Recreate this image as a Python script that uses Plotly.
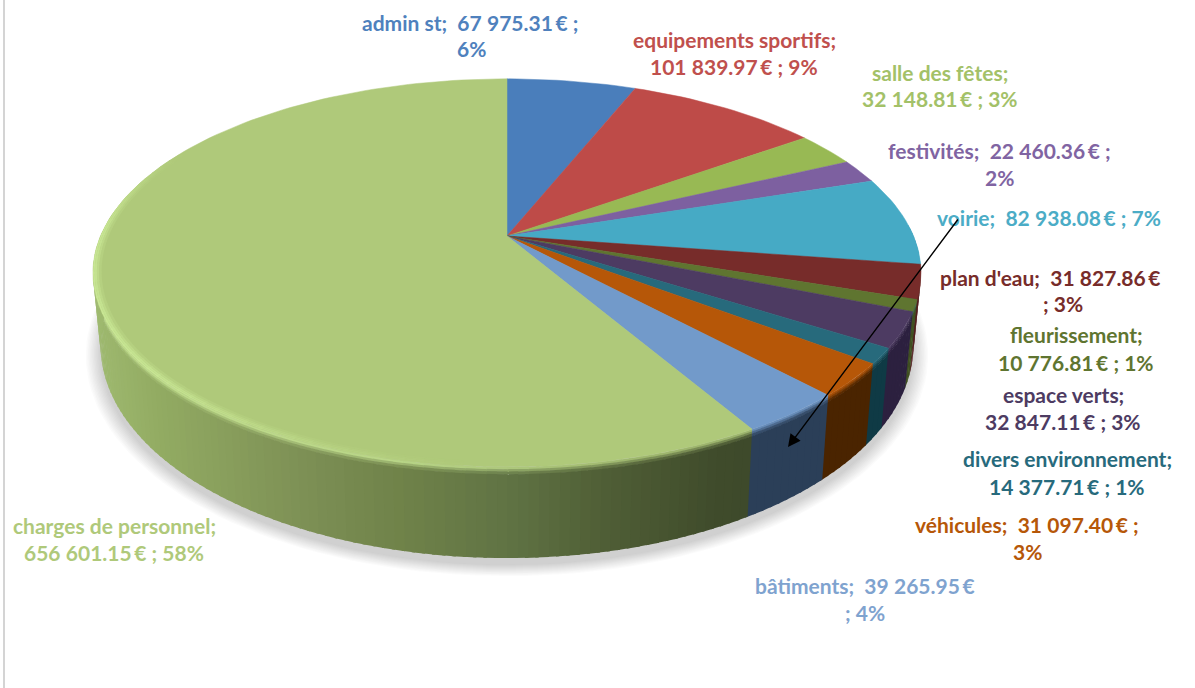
import numpy as np
import plotly.graph_objects as go

# ---------- data ----------
categories = ["admin st", "equipements sportifs", "salle des fêtes", "festivités", "voirie",
              "plan d'eau", "fleurissement", "espace verts", "divers environnement",
              "véhicules", "bâtiments", "charges de personnel"]
values = [67975.31, 101839.97, 32148.81, 22460.36, 82938.08, 31827.86,
          10776.81, 32847.11, 14377.71, 31097.40, 39265.95, 656601.15]
label_lines = [
    ("admin st;  67\u2005975.31\u2009€ ;", "6%"),
    ("equipements sportifs;", "101\u2005839.97\u2009€ ; 9%"),
    ("salle des fêtes;", "32\u2005148.81\u2009€ ; 3%"),
    ("festivités;  22\u2005460.36\u2009€ ;", "2%"),
    ("voirie;  82\u2005938.08\u2009€ ; 7%",),
    ("plan d'eau;  31\u2005827.86\u2009€", "; 3%"),
    ("fleurissement;", "10\u2005776.81\u2009€ ; 1%"),
    ("espace verts;", "32\u2005847.11\u2009€ ; 3%"),
    ("divers environnement;", "14\u2005377.71\u2009€ ; 1%"),
    ("véhicules;  31\u2005097.40\u2009€ ;", "3%"),
    ("bâtiments;  39\u2005265.95\u2009€", "; 4%"),
    ("charges de personnel;", "656\u2005601.15\u2009€ ; 58%"),
]

# ---------- styles ----------
top_colors = ["#4a7ebb", "#be4b48", "#98b954", "#7d60a0", "#46aac5", "#772c2a",
              "#5f7530", "#4d3b62", "#276a7c", "#b65708", "#729aca", "#afc97a"]
side_colors = ["#2c4a70", "#70302e", "#5a6e32", "#4a3960", "#2a6a78", "#4f1c1c",
               "#3f4f20", "#2c203f", "#0f3a45", "#4a2400", "#2b3f58", "#66784a"]
text_colors = ["#4f81bd", "#c0504d", "#a3c168", "#8064a2", "#4bacc6", "#772c2a",
               "#5f7530", "#4d3b62", "#276a7c", "#b65708", "#7fa3cf", "#afc97a"]
label_pos = [
    [(470, 22), (471, 48)], [(734, 39), (734, 66)], [(940, 72), (940, 98)],
    [(999, 150), (999, 177)], [(1049, 217)], [(1050, 277), (1063, 303)],
    [(1076, 334), (1076, 362)], [(1063, 394), (1063, 421)], [(1067, 458), (1067, 486)],
    [(1027, 524), (1027, 551)], [(865, 585), (865, 612)], [(114, 525), (114, 552)],
]
FONT = "Lato"
FS = 21

CX = 507
K = 0.19
TOP = dict(rx=406.5, a=187.0, y0=236.0)
BOT = dict(rx=399.0, a=205.0, y0=305.0)


def proj(theta, r, plane, dy=0.0):
    X, Y = r * np.sin(theta), r * np.cos(theta)
    w = 1 + K * Y
    return CX + plane["rx"] * X / w, plane["y0"] - plane["a"] * Y / w + dy


def hex2rgb(c):
    return np.array([int(c[i:i + 2], 16) for i in (1, 3, 5)], float)


def mix(c1, c2, t):
    v = hex2rgb(c1) * (1 - t) + hex2rgb(c2) * t
    return "#%02x%02x%02x" % tuple(int(round(p)) for p in v)


fig = go.Figure()


def poly(xs, ys, color, lw=0.0):
    fig.add_trace(go.Scatter(x=list(xs), y=list(ys), mode="lines", fill="toself",
                             fillcolor=color, line=dict(color=color, width=lw),
                             hoverinfo="skip", showlegend=False))


total = sum(values)
edges = np.concatenate([[0], np.cumsum(values)]) / total * 2 * np.pi

# soft shadow under the pie
full = np.linspace(0, 2 * np.pi, 181)
for grow in np.linspace(1.035, 1.0, 12):
    sx, sy = proj(full, grow, BOT, dy=7)
    fig.add_trace(go.Scatter(x=sx, y=sy, mode="lines", fill="toself",
                             fillcolor="rgba(70,70,70,0.022)", line=dict(width=0),
                             hoverinfo="skip", showlegend=False))

gx = [90, 150, 300, 400, 507, 600, 720, 750]
gc = ["#9fba70", "#93ac63", "#7d9055", "#6f8249", "#607344", "#505f36", "#3f4b2b", "#3e4a2b"]
def charge_side(x):
    x = float(np.clip(x, gx[0], gx[-1]))
    i = min(np.searchsorted(gx, x, side="right") - 1, len(gx) - 2)
    return mix(gc[i], gc[i + 1], (x - gx[i]) / (gx[i + 1] - gx[i]))


# side wall: drawn before the top face, which hides the rear part
bands = [0.0, 0.025, 0.05, 0.08, 1.0]
over = np.radians(0.4)
for i in range(len(values)):
    a0, a1 = edges[i], edges[i + 1]
    lo, hi = max(a0, np.pi * 0.48), min(a1, np.pi * 1.55)
    if hi <= lo:
        continue
    n = max(1, int((hi - lo) / np.radians(1.2)))
    th = np.linspace(lo, hi, n + 1)
    for j in range(n):
        t0, t1 = th[j], th[j + 1] + over
        xt0, yt0 = proj(t0, 1, TOP); xt1, yt1 = proj(t1, 1, TOP)
        xb0, yb0 = proj(t0, 1, BOT); xb1, yb1 = proj(t1, 1, BOT)
        if i == len(values) - 1:
            base = charge_side((xt0 + xt1) / 2)
            frac = np.clip((640 - (xt0 + xt1) / 2) / 250, 0, 1)
            rim = mix(top_colors[i], "#c8e694", frac)
        else:
            base = side_colors[i]
            rim = top_colors[i]
        for b in range(len(bands) - 1):
            u0, u1 = bands[b], min(1.0, bands[b + 1] + 0.006)
            c = base if b == len(bands) - 2 else mix(rim, base, (b + 0.5) / (len(bands) - 2))
            px = [xt0 + (xb0 - xt0) * u0, xt1 + (xb1 - xt1) * u0, xt1 + (xb1 - xt1) * u1, xt0 + (xb0 - xt0) * u1]
            py = [yt0 + (yb0 - yt0) * u0, yt1 + (yb1 - yt1) * u0, yt1 + (yb1 - yt1) * u1, yt0 + (yb0 - yt0) * u1]
            poly(px, py, c)

# top face wedges
for i in range(len(values)):
    th = np.linspace(edges[i], edges[i + 1], max(3, int((edges[i + 1] - edges[i]) / np.radians(1.5))))
    x, y = proj(th, 1, TOP)
    poly([CX, *x, CX], [TOP["y0"], *y, TOP["y0"]], top_colors[i], lw=0.5)

# bevel highlight on the large slice
i = len(values) - 1
start, stop = np.radians(185), np.radians(298)
th = np.linspace(start, stop, 50)
for r0, r1, strength in [(0.98, 0.986, 0.25), (0.986, 0.991, 0.55), (0.991, 0.996, 0.85), (0.996, 1.0, 1.0)]:
    for j in range(len(th) - 1):
        mid = (th[j] + th[j + 1]) / 2
        fade = np.clip((mid - start) / np.radians(45), 0, 1) * np.clip((stop - mid) / np.radians(25), 0, 1)
        c = mix(top_colors[i], "#c8e694", strength * fade)
        t1 = th[j + 1] + over
        x0, y0 = proj(th[j], r0, TOP); x1, y1 = proj(t1, r0, TOP)
        x2, y2 = proj(t1, r1, TOP); x3, y3 = proj(th[j], r1, TOP)
        poly([x0, x1, x2, x3], [y0, y1, y2, y3], c)

annotations = []
for lines, pos, col in zip(label_lines, label_pos, text_colors):
    for line, (px, py) in zip(lines, pos):
        annotations.append(dict(x=px, y=py, text=f"<b>{line}</b>", showarrow=False,
                                xanchor="center", yanchor="middle",
                                font=dict(family=FONT, size=FS, color=col)))
annotations.append(dict(x=788, y=447, ax=959, ay=218, axref="x", ayref="y", xref="x", yref="y",
                        text="", showarrow=True, arrowhead=2, arrowsize=1.8, arrowwidth=1.4,
                        arrowcolor="#000000", standoff=0))

fig.update_layout(
    autosize=True, margin=dict(l=0, r=0, t=0, b=0),
    paper_bgcolor="#ffffff", plot_bgcolor="#ffffff", showlegend=False,
    xaxis=dict(range=[0, 1195], visible=False, fixedrange=True),
    yaxis=dict(range=[688, 0], visible=False, fixedrange=True),
    annotations=annotations,
    shapes=[dict(type="line", x0=4, x1=4, y0=0, y1=688, xref="x", yref="y",
                 line=dict(color="#d4d4d4", width=2))],
)
fig.write_html("out.html", config=dict(displayModeBar=False), default_width="100%", default_height="100%",
               post_script="document.body.style.margin='0';document.documentElement.style.height='100%';document.body.style.height='100%';window.dispatchEvent(new Event('resize'));")
